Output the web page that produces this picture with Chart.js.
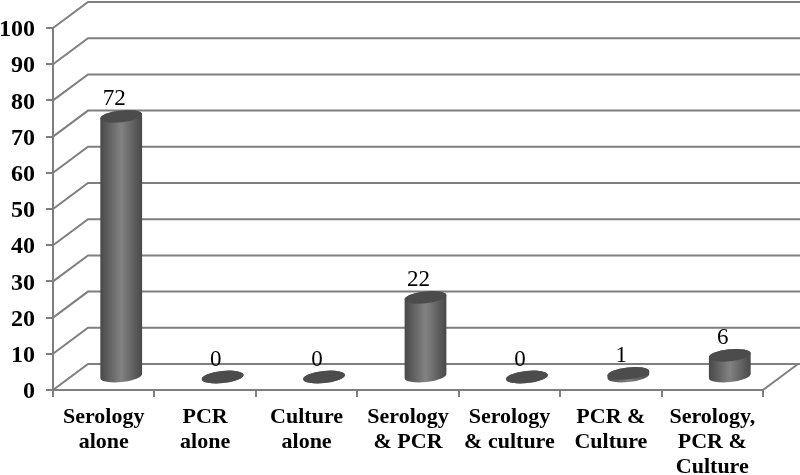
<!DOCTYPE html>
<html lang="en">
<head>
  <meta charset="UTF-8" />
  <title>Serology, PCR and culture results</title>
  <style>
    body { margin: 0; background: #fff; }
    canvas { display: block; }
  </style>
  <script src="https://cdn.jsdelivr.net/npm/chart.js"></script>
</head>
<body>
  <canvas id="chart" width="800" height="475"></canvas>
  <script>
    const categories = [
      ['Serology', 'alone'],
      ['PCR', 'alone'],
      ['Culture', 'alone'],
      ['Serology', '& PCR'],
      ['Serology', '& culture'],
      ['PCR &', 'Culture'],
      ['Serology,', 'PCR &', 'Culture']
    ];
    const values = [72, 0, 0, 22, 0, 1, 6];
    const yMax = 100;
    const yStep = 10;

    const serif = '"Liberation Serif", "Times New Roman", serif';
    const gridColor = '#7f7f7f';
    const depthX = 35, depthY = 26;   // how far the back wall sits from the front axis
    const tilt = -6 * Math.PI / 180;  // the ellipses lean a little in the 3d view

    // floor and back wall, drawn before the bars
    const wallsPlugin = {
      id: 'walls',
      beforeDatasetsDraw(chart) {
        const { ctx, chartArea, scales } = chart;
        ctx.save();
        ctx.strokeStyle = gridColor;
        ctx.lineWidth = 2;
        for (let v = 0; v <= yMax; v += yStep) {
          const y = scales.y.getPixelForValue(v);
          ctx.beginPath();
          ctx.moveTo(chartArea.left, y);
          ctx.lineTo(chartArea.left + depthX, y - depthY);
          ctx.lineTo(chartArea.right + depthX + 2, y - depthY);
          ctx.stroke();
        }
        const y0 = scales.y.getPixelForValue(0);
        ctx.beginPath();
        ctx.moveTo(chartArea.right, y0);
        ctx.lineTo(chartArea.right + depthX, y0 - depthY);
        ctx.stroke();
        ctx.restore();
      }
    };

    // turns each bar of the dataset into a cylinder standing on the floor
    const cylinderPlugin = {
      id: 'cylinders',
      afterDatasetsDraw(chart) {
        const { ctx } = chart;
        const rx = 21, ry = 6;
        chart.getDatasetMeta(0).data.forEach((bar, i) => {
          const cx = bar.x + depthX / 2;
          const topY = bar.y - depthY / 2;
          const baseY = bar.base - depthY / 2;

          const grad = ctx.createLinearGradient(cx - rx, 0, cx + rx, 0);
          grad.addColorStop(0, '#484848');
          grad.addColorStop(0.5, '#828282');
          grad.addColorStop(1, '#484848');

          ctx.save();
          ctx.fillStyle = grad;
          ctx.beginPath();
          ctx.ellipse(cx, baseY, rx, ry, tilt, 0, Math.PI);
          ctx.ellipse(cx, topY, rx, ry, tilt, Math.PI, 2 * Math.PI);
          ctx.closePath();
          ctx.fill();

          ctx.fillStyle = '#4c4c4c';
          ctx.beginPath();
          ctx.ellipse(cx, topY, rx, ry, tilt, 0, 2 * Math.PI);
          ctx.fill();

          // value label, sits a bit left of the cylinder and above its top
          ctx.fillStyle = '#000';
          ctx.font = '23px ' + serif;
          ctx.textAlign = 'center';
          ctx.textBaseline = 'middle';
          ctx.fillText(String(values[i]), cx - 7, topY - 17);
          ctx.restore();
        });
      }
    };

    new Chart(document.getElementById('chart').getContext('2d'), {
      type: 'bar',
      data: {
        labels: categories,
        datasets: [{ data: values, backgroundColor: 'rgba(0,0,0,0)', borderWidth: 0 }]
      },
      options: {
        responsive: false,
        animation: false,
        layout: { padding: { top: 28, right: 37, left: 0, bottom: 0 } },
        plugins: { legend: { display: false }, tooltip: { enabled: false } },
        scales: {
          x: {
            afterFit(s) { s.height = 85; },
            grid: { drawOnChartArea: false, color: gridColor, lineWidth: 2, tickLength: 7 },
            border: { color: gridColor, width: 2 },
            ticks: {
              color: '#000',
              autoSkip: false,
              maxRotation: 0,
              padding: 8,
              font: { family: serif, size: 22, weight: 'bold', lineHeight: '25px' }
            }
          },
          y: {
            min: 0,
            max: yMax,
            afterFit(s) { s.width = 53; },
            grid: { drawOnChartArea: false, color: gridColor, lineWidth: 2, tickLength: 7 },
            border: { color: gridColor, width: 2 },
            ticks: {
              stepSize: yStep,
              color: '#000',
              padding: 11,
              // empty first line with a 4px line height pushes the number down 2px
              callback: v => ['', String(v)],
              font: { family: serif, size: 24, weight: 'bold', lineHeight: '4px' }
            }
          }
        }
      },
      plugins: [wallsPlugin, cylinderPlugin]
    });
  </script>
</body>
</html>
